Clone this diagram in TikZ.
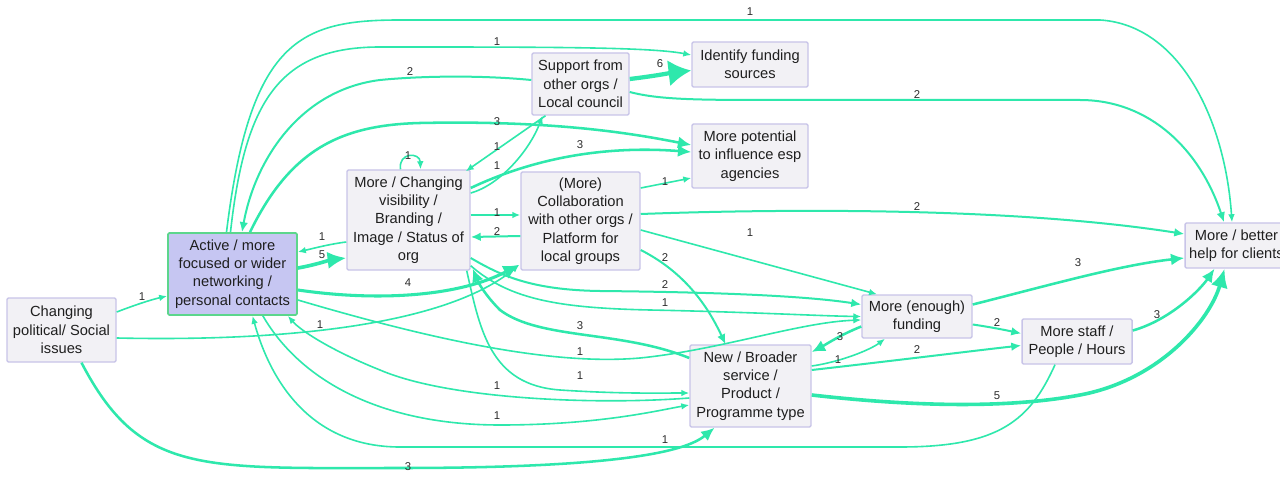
\documentclass[tikz,border=0pt]{standalone}
\usepackage{fontspec}
\setmainfont{Liberation Sans}
\usetikzlibrary{arrows.meta,calc}
\definecolor{edgec}{RGB}{46,232,172}
\definecolor{boxfill}{RGB}{242,241,245}
\definecolor{boxline}{RGB}{200,196,232}
\definecolor{actfill}{RGB}{198,198,242}
\definecolor{actline}{RGB}{92,214,140}
\definecolor{numc}{RGB}{45,45,45}
\begin{document}
\begin{tikzpicture}[x=0.75pt,y=-0.75pt,
  box/.style={draw=boxline, fill=boxfill, line width=1.1pt, rounded corners=1pt,
    align=center, inner sep=0pt, text=black!88,
    font=\fontsize{11}{13.7}\selectfont},
  act/.style={box, draw=actline, fill=actfill, line width=1.3pt},
  sz/.style 2 args={minimum width=#1*0.75pt, minimum height=#2*0.75pt},
  lbl/.style={font=\fontsize{8.5}{9}\selectfont, text=numc, inner sep=0pt},
  w1/.style={draw=edgec, line width=1.2pt, -{Latex[length=6pt,width=5pt]}},
  w2/.style={draw=edgec, line width=1.5pt, -{Latex[length=7.5pt,width=6.5pt]}},
  w3/.style={draw=edgec, line width=1.9pt, -{Latex[length=10pt,width=9pt]}},
  w4/.style={draw=edgec, line width=2.3pt, -{Latex[length=12pt,width=11pt]}},
  w5/.style={draw=edgec, line width=2.7pt, -{Latex[length=14pt,width=13pt]}},
  w6/.style={draw=edgec, line width=3.2pt, -{Latex[length=17pt,width=20pt]}},
]
\fill[white] (0,0) rectangle (1280,477);
\useasboundingbox (0,0) rectangle (1280,477);

% factors
\node[box, sz={109}{64}] (C)  at (61.5,330)  {Changing\\political/ Social\\issues};
\node[act, sz={129}{82}] (A)  at (232.5,274) {Active / more\\focused or wider\\networking /\\personal contacts};
\node[box, sz={123}{100}] (V) at (408.5,220) {More / Changing\\visibility /\\Branding /\\Image / Status of\\org};
\node[box, sz={119}{98}] (Co) at (580.5,221) {(More)\\Collaboration\\with other orgs /\\Platform for\\local groups};
\node[box, sz={97}{62}]  (S)  at (580.5,84)  {Support from\\other orgs /\\Local council};
\node[box, sz={116}{45}] (I)  at (750,64.5)  {Identify funding\\sources};
\node[box, sz={116}{64}] (P)  at (750,156)   {More potential\\to influence esp\\agencies};
\node[box, sz={110}{43}] (F)  at (917,316.5) {More (enough)\\funding};
\node[box, sz={110}{45}] (St) at (1077,341.5) {More staff /\\People / Hours};
\node[box, sz={121}{82}] (NS) at (750.5,386) {New / Broader\\service /\\Product /\\Programme type};
\node[box, sz={103}{45}] (H)  at (1236.5,245.5) {More / better\\help for clients};

% links out of Changing political / Social issues
\draw[w1] ([shift={(0,-18)}]C.east) .. controls (135,305) and (150,300) .. ([shift={(0,22)}]A.west);
\draw[w1] ([shift={(0,8)}]C.east) .. controls (300,342) and (450,322) .. ([shift={(-1,-6)}]Co.south west);
\draw[w3] ([shift={(20,0)}]C.south) .. controls (140,475) and (200,468) .. (400,468)
          .. controls (640,468) and (690,448) .. ([shift={(-36,0)}]NS.south);

% networking
\draw[w5] ([shift={(0,-6)}]A.east) .. controls (315,265) and (330,260) .. ([shift={(0,38)}]V.west);
\draw[w1] ([shift={(0,22)}]V.west) .. controls (330,244) and (315,248) .. ([shift={(0,-22)}]A.east);
\draw[w4] ([shift={(0,16)}]A.east) .. controls (380,302) and (460,296) .. ([shift={(-1,-6)}]Co.south west);
\draw[w1] ([shift={(0,26)}]A.east) .. controls (450,345) and (560,365) .. (640,358)
          .. controls (720,350) and (800,322) .. ([shift={(0,3.5)}]F.west);
\draw[w1] ([shift={(-2,0)}]A.north) .. controls (245,100) and (280,47) .. (380,47)
          .. controls (550,47) and (650,47) .. ([shift={(0,-9.5)}]I.west);
\draw[w1] ([shift={(-6,0)}]A.north) .. controls (250,40) and (300,20) .. (400,20)
          -- (1100,20) .. controls (1180,25) and (1225,120) .. ([shift={(-4.5,0)}]H.north);
\draw[w2] ([shift={(0,-4)}]S.west) .. controls (480,75) and (420,76) .. (380,80)
          .. controls (300,90) and (255,160) .. ([shift={(9.5,0)}]A.north);
\draw[w3] ([shift={(17.5,0)}]A.north) .. controls (290,150) and (340,125) .. (420,123)
          .. controls (560,120) and (640,135) .. ([shift={(0,-11)}]P.west);

% support from other orgs
\draw[w6] ([shift={(0,-5)}]S.east) .. controls (655,76) and (670,73) .. ([shift={(0,6)}]I.west);
\draw[w2] ([shift={(0,8)}]S.east) .. controls (660,100) and (700,100) .. (780,100)
          -- (1080,100) .. controls (1150,100) and (1200,150) .. ([shift={(-12.5,0)}]H.north);
\draw[w1] ([shift={(-35,0)}]S.south) -- ([shift={(-5,2)}]V.north east);

% visibility
\draw[w1] ([shift={(0,-27)}]V.east) .. controls (500,185) and (530,150) .. ([shift={(-38,0)}]S.south);
\draw[w1] ([shift={(-8,0)}]V.north) .. controls (398,152) and (420,152) .. ([shift={(12,0)}]V.north);
\draw[w3] ([shift={(0,-32)}]V.east) .. controls (530,160) and (600,145) .. ([shift={(0,-4)}]P.west);
\draw[w1] ([shift={(0,-5)}]V.east) -- ([shift={(0,-6)}]Co.west);
\draw[w2] ([shift={(0,15)}]Co.west) -- ([shift={(0,17)}]V.east);
\draw[w2] ([shift={(0,38)}]V.east) .. controls (500,275) and (530,290) .. (600,291)
          .. controls (700,292) and (800,295) .. ([shift={(0,-12)}]F.west);
\draw[w1] ([shift={(0,-5)}]V.south east) .. controls (510,300) and (560,308) .. (650,310)
          .. controls (750,312) and (820,316) .. ([shift={(0,0)}]F.west);
\draw[w1] ([shift={(-4,0)}]V.south east) .. controls (480,330) and (490,385) .. (560,390)
          .. controls (620,394) and (660,393) .. ([shift={(0,7)}]NS.west);

% collaboration
\draw[w1] ([shift={(0,-33)}]Co.east) -- ([shift={(0,22)}]P.west);
\draw[w2] ([shift={(0,-7)}]Co.east) .. controls (750,210) and (1000,205) .. ([shift={(0,-11.5)}]H.west);
\draw[w1] ([shift={(0,9)}]Co.east) -- ([shift={(-40,0)}]F.north);
\draw[w2] ([shift={(0,29)}]Co.east) .. controls (680,270) and (705,300) .. ([shift={(-25,0)}]NS.north);

% new / broader service
\draw[w3] ([shift={(0,-28)}]NS.west) .. controls (620,330) and (540,340) .. (500,310)
          .. controls (485,295) and (478,282) .. ([shift={(2,-2)}]V.south east);
\draw[w1] ([shift={(0,12)}]NS.west) .. controls (600,405) and (450,400) .. (380,370)
          .. controls (330,350) and (300,330) .. ([shift={(-10,0)}]A.south east);
\draw[w1] ([shift={(-35,0)}]A.south east) .. controls (300,380) and (380,425) .. (500,425)
          .. controls (600,425) and (660,410) .. ([shift={(0,19)}]NS.west);
\draw[w1] ([shift={(-22,0)}]St.south) .. controls (1030,420) and (1000,447) .. (900,447)
          -- (400,447) .. controls (310,447) and (270,380) .. ([shift={(20,0)}]A.south);
\draw[w3] ([shift={(0,10)}]F.west) .. controls (840,335) and (825,345) .. ([shift={(0,-34)}]NS.east);
\draw[w1] ([shift={(0,-20)}]NS.east) .. controls (840,362) and (870,350) .. ([shift={(-32,0)}]F.south);
\draw[w2] ([shift={(0,-16)}]NS.east) .. controls (900,360) and (980,350) .. ([shift={(0,4)}]St.west);
\draw[w2] ([shift={(0,8)}]F.east) .. controls (990,327) and (1005,330) .. ([shift={(0,-8)}]St.west);
\draw[w3] ([shift={(0,-12)}]F.east) .. controls (1050,285) and (1120,265) .. ([shift={(0,12.5)}]H.west);
\draw[w3] ([shift={(0,-11)}]St.east) .. controls (1170,320) and (1200,290) .. ([shift={(-22,0)}]H.south);
\draw[w5] ([shift={(0,9)}]NS.east) .. controls (900,405) and (1000,410) .. (1080,395)
          .. controls (1160,380) and (1210,320) .. ([shift={(-12,0)}]H.south);

% link counts
\foreach \x/\y/\t [count=\i] in {
  750/12/1, 497/42/1, 660/64/6, 410/72/2, 917/95/2, 497/122/3, 580/145/3,
  497/147/1, 408/156/1, 497/166/1, 665/182/1, 497/213/1, 497/232/2, 917/207/2,
  750/233/1, 322/237/1, 322/255/5, 665/258/2, 1078/263/3, 408/283/4, 665/285/2,
  665/303/1, 142/297/1, 320/325/1, 580/326/3, 997/323/2, 840/337/3, 1157/315/3,
  917/350/2, 838/360/1, 580/352/1, 580/376/1, 497/386/1, 997/396/5, 497/416/1,
  665/440/1, 408/467/3}
  \node[lbl] (n\i) at (\x,\y) {\t};
\end{tikzpicture}
\end{document}
